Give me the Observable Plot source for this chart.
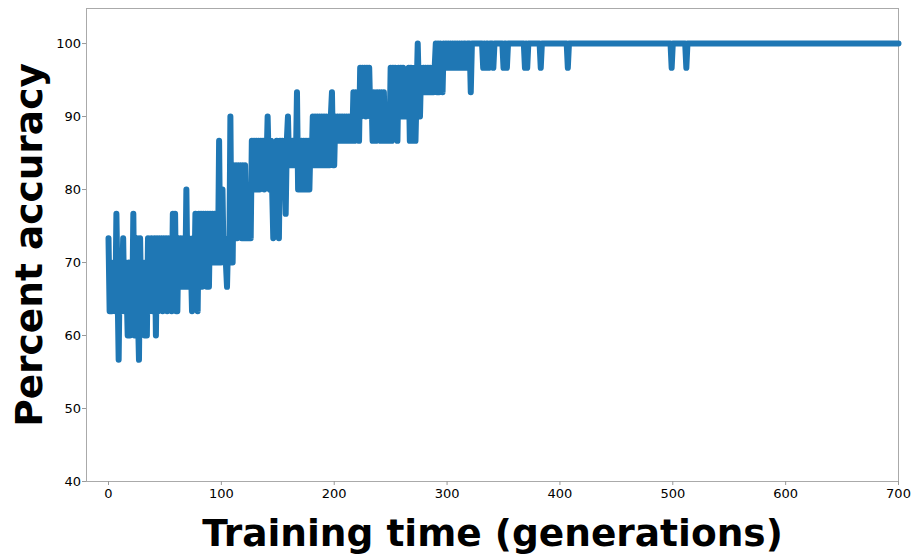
<!DOCTYPE html>
<html>
<head>
<meta charset="utf-8">
<script src="https://cdn.jsdelivr.net/npm/d3@7"></script>
<script src="https://cdn.jsdelivr.net/npm/@observablehq/plot@0.6"></script>
<style>
  html, body { margin: 0; padding: 0; background: white; }
</style>
</head>
<body>
<div id="chart"></div>
<script>
// Percent accuracy per generation, generations 0..321 (one value per generation)
const denseAccuracy = [
  73.33, 63.33, 70, 63.33, 66.67, 70, 63.33, 76.67, 66.67, 56.67,
  70, 63.33, 66.67, 73.33, 63.33, 70, 66.67, 60, 70, 60,
  66.67, 63.33, 76.67, 60, 70, 73.33, 63.33, 56.67, 73.33, 63.33,
  70, 66.67, 60, 70, 60, 73.33, 63.33, 66.67, 73.33, 63.33,
  70, 73.33, 60, 73.33, 63.33, 73.33, 66.67, 73.33, 63.33, 73.33,
  66.67, 73.33, 63.33, 73.33, 66.67, 73.33, 63.33, 76.67, 66.67, 76.67,
  63.33, 63.33, 73.33, 66.67, 73.33, 70, 66.67, 73.33, 66.67, 80,
  66.67, 73.33, 66.67, 70, 63.33, 73.33, 66.67, 76.67, 66.67, 63.33,
  76.67, 66.67, 76.67, 66.67, 76.67, 70, 76.67, 66.67, 76.67, 66.67,
  76.67, 70, 76.67, 70, 76.67, 70, 73.33, 70, 86.67, 70,
  73.33, 80, 70, 73.33, 70, 66.67, 73.33, 70, 90, 70,
  70, 83.33, 73.33, 83.33, 73.33, 83.33, 76.67, 83.33, 73.33, 83.33,
  73.33, 83.33, 73.33, 76.67, 73.33, 76.67, 73.33, 86.67, 80, 86.67,
  80, 86.67, 80, 86.67, 80, 86.67, 83.33, 86.67, 80, 86.67,
  83.33, 90, 83.33, 80, 86.67, 80, 73.33, 76.67, 83.33, 86.67,
  80, 73.33, 86.67, 83.33, 86.67, 80, 83.33, 76.67, 86.67, 90,
  83.33, 86.67, 83.33, 86.67, 83.33, 86.67, 83.33, 93.33, 80, 86.67,
  80, 86.67, 80, 86.67, 80, 86.67, 80, 86.67, 80, 86.67,
  83.33, 90, 83.33, 90, 83.33, 90, 83.33, 90, 83.33, 90,
  83.33, 90, 83.33, 90, 83.33, 86.67, 83.33, 90, 93.33, 83.33,
  83.33, 90, 86.67, 90, 86.67, 90, 86.67, 90, 86.67, 90,
  86.67, 90, 86.67, 90, 86.67, 90, 86.67, 93.33, 86.67, 93.33,
  90, 93.33, 86.67, 96.67, 90, 96.67, 93.33, 96.67, 90, 96.67,
  93.33, 96.67, 90, 93.33, 86.67, 93.33, 90, 86.67, 93.33, 90,
  93.33, 86.67, 93.33, 86.67, 93.33, 86.67, 90, 86.67, 90, 86.67,
  96.67, 86.67, 96.67, 90, 96.67, 93.33, 86.67, 96.67, 93.33, 96.67,
  90, 96.67, 90, 93.33, 90, 93.33, 96.67, 86.67, 96.67, 93.33,
  86.67, 96.67, 86.67, 93.33, 100, 93.33, 90, 96.67, 93.33, 96.67,
  93.33, 96.67, 93.33, 96.67, 93.33, 96.67, 93.33, 96.67, 93.33, 96.67,
  100, 93.33, 100, 93.33, 100, 96.67, 93.33, 100, 96.67, 100,
  96.67, 100, 96.67, 100, 96.67, 100, 96.67, 100, 96.67, 100,
  96.67, 100, 96.67, 100, 96.67, 100, 100, 96.67, 100, 100,
  100, 93.33
];

// Later generations, where accuracy is mostly at 100 with occasional dips
const tailGenerations = [322, 331, 332, 333, 334, 335, 336, 337, 338, 340, 341, 342,
  349, 350, 351, 352, 353, 354, 368, 369, 370, 371, 372, 382, 383, 384,
  406, 407, 408, 498, 499, 500, 511, 512, 513, 700];
const tailAccuracy = [100, 100, 96.67, 100, 96.67, 100, 100, 96.67, 100, 100, 96.67, 100,
  100, 96.67, 100, 100, 96.67, 100, 100, 96.67, 100, 96.67, 100, 100, 96.67, 100,
  100, 96.67, 100, 100, 96.67, 100, 100, 96.67, 100, 100];

const xTicks = [0, 100, 200, 300, 400, 500, 600, 700];
const yTicks = [40, 50, 60, 70, 80, 90, 100];
const xLabel = "Training time (generations)";
const yLabel = "Percent accuracy";

const rows = [
  ...denseAccuracy.map((acc, i) => ({gen: i, acc})),
  ...tailGenerations.map((gen, i) => ({gen, acc: tailAccuracy[i]}))
];

const chart = Plot.plot({
  width: 914,
  height: 554,
  marginLeft: 86,
  marginRight: 16,
  marginTop: 8,
  marginBottom: 73,
  style: {fontFamily: "DejaVu Sans", fontSize: "13px", background: "white", color: "black"},
  x: {domain: [-19.5, 700]},
  y: {domain: [40, 104.8]},
  marks: [
    Plot.frame({stroke: "#aaaaaa"}),
    Plot.axisX({ticks: xTicks, tickSize: 4, tickPadding: 3, stroke: "#999", fill: "black", label: null, tickFormat: d => String(d)}),
    Plot.axisY({ticks: yTicks, tickSize: 4, tickPadding: 1.5, stroke: "#999", fill: "black", label: null, tickFormat: d => String(d)}),
    Plot.line(rows, {x: "gen", y: "acc", stroke: "#1f77b4", strokeWidth: 6, strokeLinejoin: "round", strokeLinecap: "round"}),
    Plot.text([xLabel], {text: d => d, frameAnchor: "bottom", lineAnchor: "middle", textAnchor: "middle", dy: 52, fontSize: 37.5, fontWeight: "bold", fill: "black"}),
    Plot.text([yLabel], {text: d => d, frameAnchor: "left", lineAnchor: "middle", textAnchor: "middle", dx: -57, rotate: -90, fontSize: 37.5, fontWeight: "bold", fill: "black"})
  ]
});
document.getElementById("chart").appendChild(chart);
</script>
</body>
</html>
